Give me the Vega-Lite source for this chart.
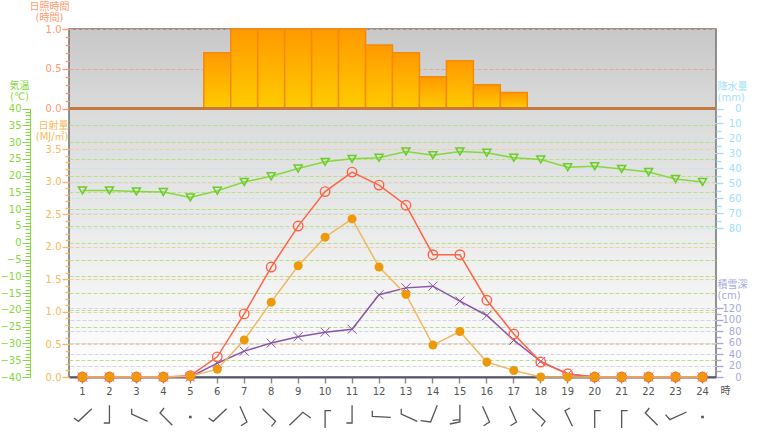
{
  "$schema": "https://vega.github.io/schema/vega-lite/v6.json",
  "width": 647,
  "height": 348,
  "autosize": {"type": "none"},
  "padding": {"left": 69, "top": 29, "right": 52, "bottom": 59},
  "background": "#ffffff",
  "config": {
    "font": "DejaVu Sans, Noto Sans CJK JP",
    "axis": {"labelFontSize": 10, "titleFontSize": 10, "titleFontWeight": "normal", "titleAngle": 0, "titleLineHeight": 11, "titleBaseline": "top", "labelOverlap": false, "labelFlush": false, "labelBound": false, "tickWidth": 1.4}
  },
  "view": {
    "stroke": "#707070",
    "strokeWidth": 1.5,
    "fill": {"gradient": "linear", "x1": 0, "y1": 0, "x2": 0, "y2": 1, "stops": [
      {"offset": 0, "color": "#c8c8c8"},
      {"offset": 0.23, "color": "#dadada"},
      {"offset": 1, "color": "#ffffff"}
    ]}
  },
  "data": {
    "values": [
      {"hour": 1, "sun": 0, "solar": 0, "clear": 0, "temp": 15.6, "rain": 0, "snow": 0, "wind": "南西"},
      {"hour": 2, "sun": 0, "solar": 0, "clear": 0, "temp": 15.6, "rain": 0, "snow": 0, "wind": "南"},
      {"hour": 3, "sun": 0, "solar": 0, "clear": 0, "temp": 15.3, "rain": 0, "snow": 0, "wind": "西北西"},
      {"hour": 4, "sun": 0, "solar": 0, "clear": 0, "temp": 15.1, "rain": 0, "snow": 0, "wind": "北西"},
      {"hour": 5, "sun": 0, "solar": 0.01, "clear": 0.02, "temp": 13.5, "rain": 0, "snow": 0, "wind": "静穏"},
      {"hour": 6, "sun": 0.7, "solar": 0.12, "clear": 0.31, "temp": 15.5, "rain": 0, "snow": 24, "wind": "南西"},
      {"hour": 7, "sun": 1, "solar": 0.57, "clear": 0.97, "temp": 18.1, "rain": 0, "snow": 45, "wind": "南南東"},
      {"hour": 8, "sun": 1, "solar": 1.15, "clear": 1.69, "temp": 19.8, "rain": 0, "snow": 59, "wind": "南東"},
      {"hour": 9, "sun": 1, "solar": 1.71, "clear": 2.32, "temp": 22.1, "rain": 0, "snow": 70, "wind": "北東"},
      {"hour": 10, "sun": 1, "solar": 2.15, "clear": 2.85, "temp": 24.1, "rain": 0, "snow": 78, "wind": "北"},
      {"hour": 11, "sun": 1, "solar": 2.43, "clear": 3.15, "temp": 25, "rain": 0, "snow": 83, "wind": "南"},
      {"hour": 12, "sun": 0.8, "solar": 1.69, "clear": 2.95, "temp": 25.3, "rain": 0, "snow": 143, "wind": "西"},
      {"hour": 13, "sun": 0.7, "solar": 1.27, "clear": 2.64, "temp": 27.2, "rain": 0, "snow": 155, "wind": "西北西"},
      {"hour": 14, "sun": 0.4, "solar": 0.49, "clear": 1.88, "temp": 26.1, "rain": 0, "snow": 158, "wind": "南南西"},
      {"hour": 15, "sun": 0.6, "solar": 0.7, "clear": 1.88, "temp": 27.2, "rain": 0, "snow": 132, "wind": "南(強)"},
      {"hour": 16, "sun": 0.3, "solar": 0.23, "clear": 1.18, "temp": 26.8, "rain": 0, "snow": 107, "wind": "南南東"},
      {"hour": 17, "sun": 0.2, "solar": 0.1, "clear": 0.66, "temp": 25.3, "rain": 0, "snow": 64, "wind": "南南東"},
      {"hour": 18, "sun": 0, "solar": 0, "clear": 0.23, "temp": 24.8, "rain": 0, "snow": 27, "wind": "南東"},
      {"hour": 19, "sun": 0, "solar": 0, "clear": 0.05, "temp": 22.5, "rain": 0, "snow": 5, "wind": "北北西"},
      {"hour": 20, "sun": 0, "solar": 0, "clear": 0, "temp": 22.8, "rain": 0, "snow": 0, "wind": "北"},
      {"hour": 21, "sun": 0, "solar": 0, "clear": 0, "temp": 22, "rain": 0, "snow": 0, "wind": "北"},
      {"hour": 22, "sun": 0, "solar": 0, "clear": 0, "temp": 21.1, "rain": 0, "snow": 0, "wind": "北西"},
      {"hour": 23, "sun": 0, "solar": 0, "clear": 0, "temp": 19, "rain": 0, "snow": 0, "wind": "西南西"},
      {"hour": 24, "sun": 0, "solar": 0, "clear": 0, "temp": 18.1, "rain": 0, "snow": 0, "wind": "静穏"}
    ]
  },
  "encoding": {
    "x": {
      "field": "hour",
      "type": "ordinal",
      "scale": {"type": "band", "paddingInner": 0, "paddingOuter": 0},
      "axis": {
        "title": "時",
        "titleX": 651,
        "titleY": 8,
        "titleAlign": "left",
        "titleColor": "#555555",
        "labelAngle": 0,
        "labelColor": "#555555",
        "labelPadding": 3,
        "tickColor": "#888888",
        "tickSize": 6,
        "domainColor": "#555570",
        "domainWidth": 2,
        "grid": false
      }
    }
  },
  "layer": [
    {
      "mark": {"type": "bar", "color": "#9fe0fa"},
      "encoding": {
        "y": {
          "field": "rain",
          "type": "quantitative",
          "scale": {"domain": [0, 80], "range": [79.5, 199], "nice": false},
          "axis": {
            "orient": "right",
            "title": ["降水量", "(mm)"],
            "titleX": 1,
            "titleY": 52,
            "titleAlign": "left",
            "titleColor": "#9fe0fa",
            "tickCount": 16,
            "labelExpr": "datum.value % 10 == 0 ? datum.label : ''",
            "labelAlign": "right",
            "labelPadding": 18,
            "labelColor": "#9fe0fa",
            "tickColor": "#9fe0fa",
            "tickSize": {"condition": {"test": "datum.value % 10 == 0", "value": 7}, "value": 5},
            "domain": false,
            "grid": true,
            "gridDash": [4, 2],
            "gridWidth": 1.2,
            "gridColor": "#c8e4f0",
            "gridOpacity": {"condition": {"test": "datum.value % 10 == 0 && datum.value > 0", "value": 1}, "value": 0}
          }
        }
      }
    },
    {
      "transform": [{"filter": "datum.sun > 0"}],
      "mark": {
        "type": "bar",
        "stroke": "#f58a0a",
        "strokeWidth": 1.5,
        "fill": {"gradient": "linear", "x1": 0, "y1": 0, "x2": 0, "y2": 1, "stops": [
          {"offset": 0, "color": "#ff9900"},
          {"offset": 1, "color": "#ffcc00"}
        ]}
      },
      "encoding": {
        "y": {
          "field": "sun",
          "type": "quantitative",
          "scale": {"domain": [0, 1], "range": [79.5, 0], "nice": false},
          "axis": {
            "orient": "left",
            "title": ["日照時間", "(時間)"],
            "titleX": -20,
            "titleY": -28,
            "titleAlign": "center",
            "titleColor": "#ff9a70",
            "tickCount": 10,
            "format": ".1f",
            "labelExpr": "round(datum.value * 10) % 5 == 0 ? datum.label : ''",
            "labelPadding": 1,
            "labelColor": "#ff9a70",
            "tickColor": "#ff9a70",
            "tickSize": {"condition": {"test": "round(datum.value * 10) % 5 == 0", "value": 7}, "value": 4},
            "domain": false,
            "grid": true,
            "gridDash": [4, 2],
            "gridWidth": 1.2,
            "gridColor": "#e0ab95",
            "gridOpacity": {"condition": {"test": "round(datum.value * 10) % 5 == 0 && datum.value > 0", "value": 1}, "value": 0}
          }
        }
      }
    },
    {
      "mark": {"type": "rule", "color": "#c47a3c", "strokeWidth": 2},
      "encoding": {
        "x": null,
        "y": {"datum": 0, "type": "quantitative", "scale": {"domain": [0, 1], "range": [79.5, 0], "nice": false}, "axis": null}
      }
    },
    {
      "mark": {"type": "line", "color": "#86d83c", "strokeWidth": 1.5, "point": {"shape": "triangle-down", "filled": false, "size": 64, "stroke": "#6ccc28", "strokeWidth": 1.5, "opacity": 1}},
      "encoding": {
        "y": {
          "field": "temp",
          "type": "quantitative",
          "scale": {"domain": [-40, 40], "range": [348, 79.5], "nice": false},
          "axis": {
            "orient": "left",
            "offset": 39,
            "title": ["気温", "(℃)"],
            "titleX": -11,
            "titleY": 51,
            "titleAlign": "center",
            "titleColor": "#86d83c",
            "tickCount": 80,
            "labelExpr": "datum.value % 5 == 0 ? datum.label : ''",
            "labelPadding": 1,
            "labelColor": "#86d83c",
            "tickColor": "#86d83c",
            "tickWidth": 1,
            "tickSize": {"condition": {"test": "datum.value % 5 == 0", "value": 8}, "value": 5},
            "domainColor": "#86d83c",
            "grid": true,
            "gridDash": [4, 2],
            "gridWidth": 1.2,
            "gridColor": "#b5e08a",
            "gridOpacity": {"condition": {"test": "datum.value % 5 == 0 && abs(datum.value) < 40", "value": 1}, "value": 0}
          }
        }
      }
    },
    {
      "mark": {"type": "line", "color": "#8a55a8", "strokeWidth": 1.5, "point": {"shape": "M-1,-1L1,1M-1,1L1,-1", "filled": false, "size": 81, "stroke": "#8a55a8", "strokeWidth": 1, "opacity": 1}},
      "encoding": {
        "y": {
          "field": "snow",
          "type": "quantitative",
          "scale": {"domain": [0, 120], "range": [348, 279], "nice": false},
          "axis": {
            "orient": "right",
            "title": ["積雪深", "(cm)"],
            "titleX": 1,
            "titleY": 250,
            "titleAlign": "left",
            "titleColor": "#a9a9d8",
            "tickCount": 12,
            "labelExpr": "datum.value % 20 == 0 ? datum.label : ''",
            "labelAlign": "right",
            "labelPadding": 18,
            "labelColor": "#a9a9d8",
            "tickColor": "#a9a9d8",
            "tickSize": {"condition": {"test": "datum.value % 20 == 0", "value": 7}, "value": 5},
            "domain": false,
            "grid": true,
            "gridDash": [4, 2],
            "gridWidth": 1.2,
            "gridColor": "#d5d3e8",
            "gridOpacity": {"condition": {"test": "datum.value % 20 == 0 && datum.value > 0", "value": 1}, "value": 0}
          }
        }
      }
    },
    {
      "mark": {"type": "line", "color": "#ff6347", "strokeWidth": 1.5, "point": {"shape": "circle", "filled": false, "size": 90, "stroke": "#ff6347", "strokeWidth": 1.4, "opacity": 1}},
      "encoding": {
        "y": {
          "field": "clear",
          "type": "quantitative",
          "scale": {"domain": [0, 3.5], "range": [348, 120.3], "nice": false},
          "axis": null
        }
      }
    },
    {
      "mark": {"type": "line", "color": "#f0b860", "strokeWidth": 1.5, "point": {"shape": "circle", "filled": true, "size": 81, "color": "#ec9a0a", "opacity": 1}},
      "encoding": {
        "y": {
          "field": "solar",
          "type": "quantitative",
          "scale": {"domain": [0, 3.5], "range": [348, 120.3], "nice": false},
          "axis": {
            "orient": "left",
            "title": ["日射量", "(MJ/㎡)"],
            "titleX": -1,
            "titleY": 91,
            "titleAlign": "right",
            "titleColor": "#f9b95c",
            "tickCount": 35,
            "format": ".1f",
            "labelExpr": "round(datum.value * 10) % 5 == 0 ? datum.label : ''",
            "labelPadding": 1,
            "labelColor": "#f9b95c",
            "tickColor": "#f9b95c",
            "tickSize": {"condition": {"test": "round(datum.value * 10) % 5 == 0", "value": 7}, "value": 4},
            "domain": false,
            "grid": true,
            "gridDash": [4, 2],
            "gridWidth": 1.2,
            "gridColor": "#eccfa5",
            "gridOpacity": {"condition": {"test": "round(datum.value * 10) % 5 == 0 && datum.value > 0", "value": 1}, "value": 0}
          }
        }
      }
    },
    {
      "mark": {"type": "point", "filled": false, "size": 400, "stroke": "#555555", "strokeWidth": 1.3, "opacity": 1},
      "encoding": {
        "y": {"datum": 0, "type": "quantitative", "scale": {"domain": [0, 1], "range": [385, 385], "nice": false}, "axis": null},
        "shape": {
          "field": "wind",
          "type": "nominal",
          "legend": null,
          "scale": {
            "domain": ["南西", "南", "西北西", "北西", "静穏", "南南東", "南東", "北東", "北", "西", "南南西", "南(強)", "北北西", "西南西"],
            "range": [
              "M.93,-.53L-.4,.73L-.87,.4",
              "M0,-.87L0,.9L-.57,.9",
              "M1.13,.73L-.47,0L-.47,-.53",
              "M.9,1.13L-.33,-.1L.07,-.6",
              "M-.07,.23L.07,.23L.07,.37L-.07,.37Z",
              "M-.43,-.77L.27,.8L-.33,1.17",
              "M-.87,-.53L.43,.73L.03,1.23",
              "M-.87,1.13L.47,-.17L1.27,.4",
              "M0,1.4L0,-.33L.6,-.33",
              "M1.17,.33L-.67,.23L-.67,-.33",
              "M.43,-.87L-.23,.8L-1.23,.67",
              "M0,-.93L0,.8L-1,1M0,.57L-.73,.63",
              "M.47,1.23L-.27,-.33L.23,-.6",
              "M1.1,-.2L-.57,.57L-1,.07"
            ]
          }
        }
      }
    }
  ],
  "resolve": {"scale": {"y": "independent", "shape": "independent"}, "axis": {"y": "independent"}}
}
